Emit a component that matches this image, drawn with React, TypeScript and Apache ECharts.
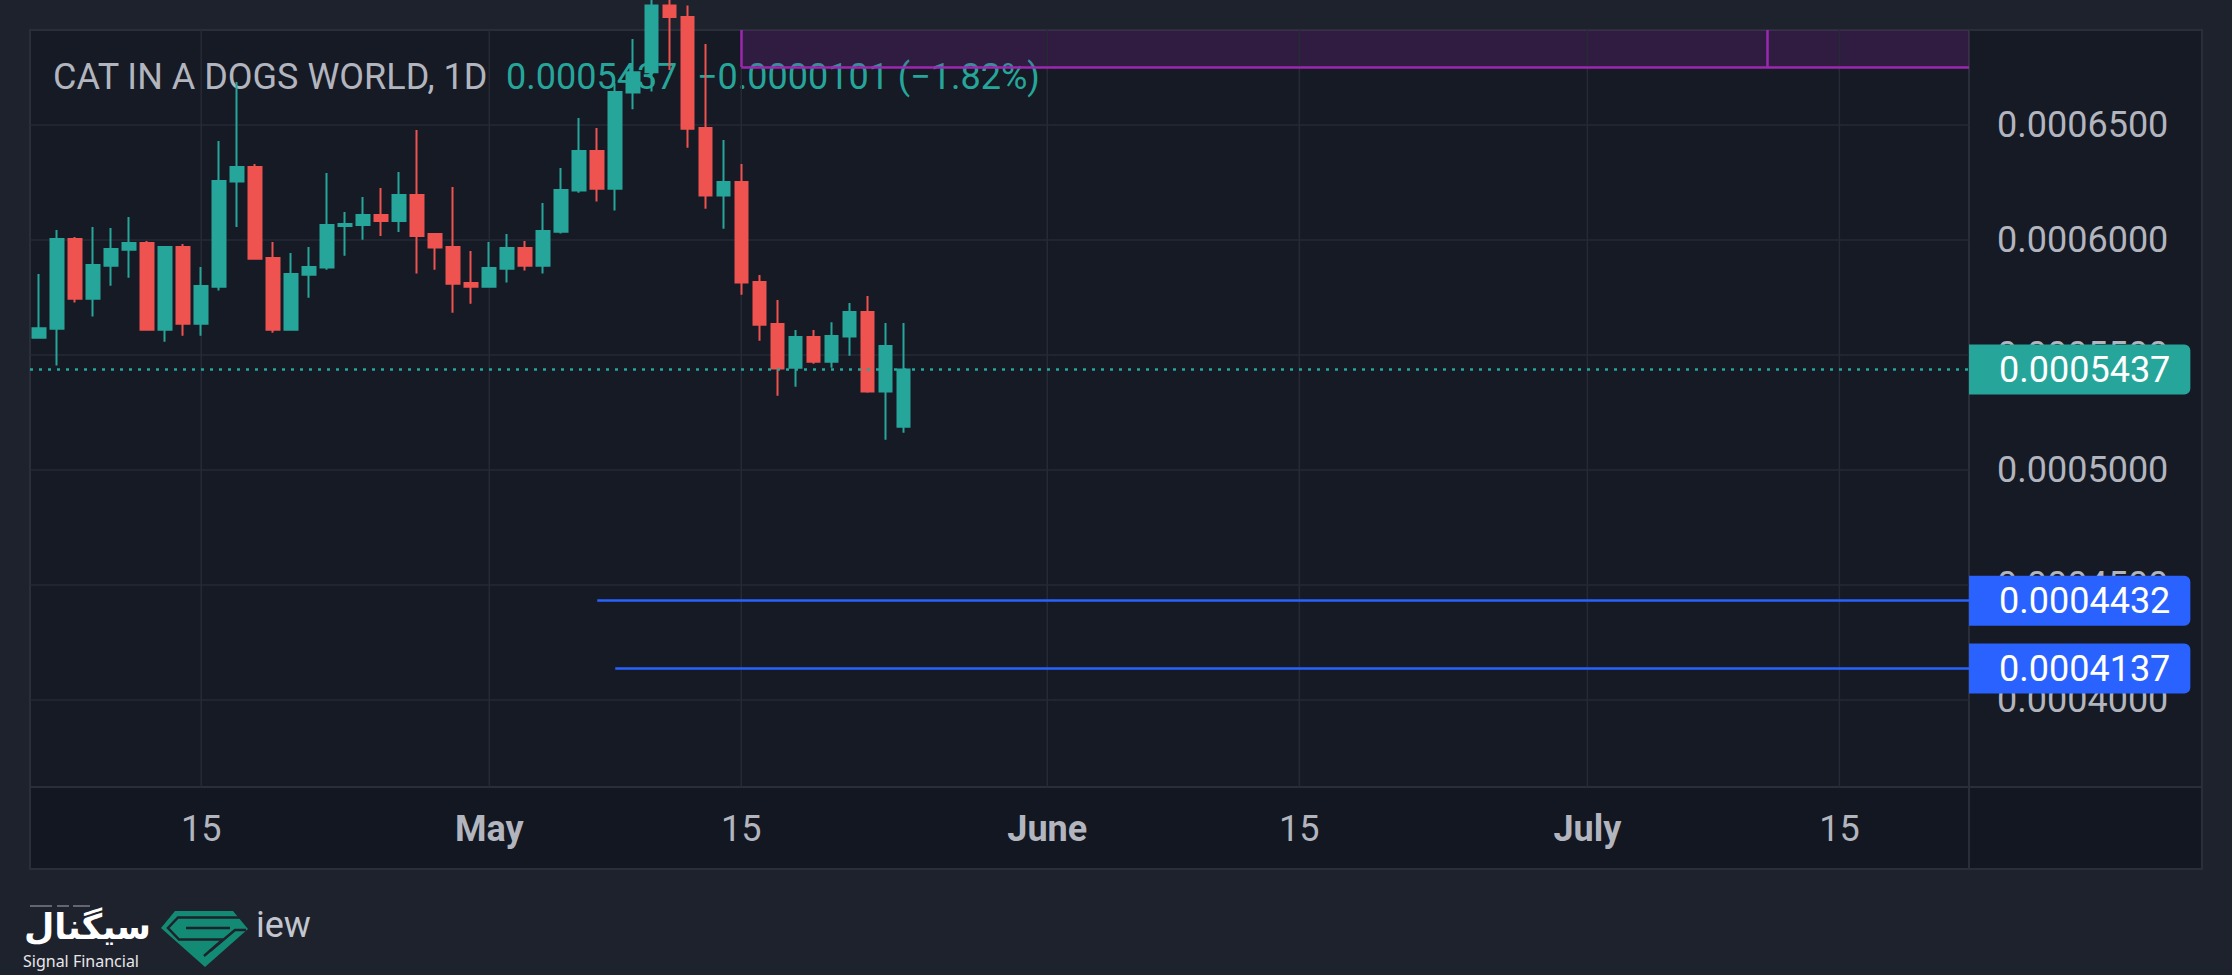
import React, { useEffect, useRef } from "react";
import * as echarts from "echarts";

// ---------- data ----------
const symbolName = "CAT IN A DOGS WORLD";
const intervalName = "1D";

const dates = [
  "2025-04-06", "2025-04-07", "2025-04-08", "2025-04-09", "2025-04-10", "2025-04-11", "2025-04-12", "2025-04-13", "2025-04-14", "2025-04-15",
  "2025-04-16", "2025-04-17", "2025-04-18", "2025-04-19", "2025-04-20", "2025-04-21", "2025-04-22", "2025-04-23", "2025-04-24", "2025-04-25",
  "2025-04-26", "2025-04-27", "2025-04-28", "2025-04-29", "2025-04-30", "2025-05-01", "2025-05-02", "2025-05-03", "2025-05-04", "2025-05-05",
  "2025-05-06", "2025-05-07", "2025-05-08", "2025-05-09", "2025-05-10", "2025-05-11", "2025-05-12", "2025-05-13", "2025-05-14", "2025-05-15",
  "2025-05-16", "2025-05-17", "2025-05-18", "2025-05-19", "2025-05-20", "2025-05-21", "2025-05-22", "2025-05-23", "2025-05-24",
];

const opens = [
  0.0005575, 0.0005614, 0.0006004, 0.0005745, 0.0005888, 0.0005958, 0.0005987, 0.000561, 0.000597, 0.0005636,
  0.0005797, 0.0006254, 0.0006317, 0.0005922, 0.000561, 0.0005849, 0.000588, 0.0006061, 0.0006065, 0.0006109,
  0.0006083, 0.0006196, 0.0006026, 0.000597, 0.0005813, 0.0005797, 0.0005875, 0.0005965, 0.0005888, 0.0006036,
  0.0006215, 0.0006387, 0.0006223, 0.0006641, 0.0006729, 0.000702, 0.000697, 0.0006487, 0.0006193, 0.0006252,
  0.0005817, 0.0005635, 0.0005445, 0.0005578, 0.0005471, 0.000558, 0.0005687, 0.0005341, 0.0005188,
];
const closes = [
  0.0005616, 0.0006004, 0.0005745, 0.0005891, 0.0005961, 0.0005987, 0.000561, 0.000597, 0.0005636, 0.00058,
  0.0006257, 0.0006317, 0.0005919, 0.000561, 0.0005852, 0.0005883, 0.0006065, 0.000607, 0.0006109, 0.0006083,
  0.0006196, 0.0006017, 0.0005967, 0.000581, 0.0005797, 0.0005878, 0.0005965, 0.0005888, 0.0006039, 0.0006217,
  0.0006387, 0.0006223, 0.0006643, 0.0006729, 0.000702, 0.000697, 0.0006484, 0.0006193, 0.0006252, 0.0005815,
  0.0005632, 0.0005441, 0.0005578, 0.0005471, 0.0005583, 0.0005687, 0.0005341, 0.0005539, 0.0005437,
];
const lows = [
  0.0005575, 0.0005454, 0.0005728, 0.0005667, 0.0005801, 0.0005836, 0.000561, 0.0005558, 0.0005584, 0.0005584,
  0.000578, 0.0006057, 0.0005919, 0.0005597, 0.000561, 0.0005749, 0.0005871, 0.0005932, 0.0006001, 0.0006017,
  0.0006035, 0.0005854, 0.0005871, 0.0005684, 0.0005723, 0.0005797, 0.0005815, 0.0005867, 0.0005854, 0.0006028,
  0.0006206, 0.0006167, 0.0006128, 0.0006568, 0.0006646, 0.0006739, 0.0006401, 0.0006136, 0.0006049, 0.0005762,
  0.0005562, 0.0005323, 0.0005362, 0.0005462, 0.0005445, 0.0005497, 0.0005336, 0.0005132, 0.0005162,
];
const highs = [
  0.0005852, 0.0006043, 0.0006013, 0.0006057, 0.0006052, 0.00061, 0.0005996, 0.000597, 0.0005983, 0.0005883,
  0.000643, 0.0006687, 0.000633, 0.0005991, 0.0005943, 0.000597, 0.0006291, 0.0006122, 0.0006187, 0.0006226,
  0.0006296, 0.0006478, 0.0006026, 0.000623, 0.0005952, 0.0005991, 0.0006026, 0.0005996, 0.0006161, 0.0006313,
  0.000653, 0.0006487, 0.0006681, 0.0006874, 0.000715, 0.00072, 0.000702, 0.0006852, 0.0006435, 0.000633,
  0.0005848, 0.0005739, 0.0005609, 0.0005609, 0.0005643, 0.0005726, 0.0005757, 0.0005639, 0.0005639,
];

const xTickDates = ["2025-04-15", "2025-05-01", "2025-05-15", "2025-06-01", "2025-06-15", "2025-07-01", "2025-07-15"];
const monthNames = ["January", "February", "March", "April", "May", "June", "July", "August", "September", "October", "November", "December"];
const yTickValues = [0.0004, 0.00045, 0.0005, 0.00055, 0.0006, 0.00065];

const lastPrice = 0.0005437;
const priceChange = -0.0000101;
const priceChangePct = -1.82;

const supportLevels = [0.0004432, 0.0004137];
const supportStartDates = ["2025-05-07", "2025-05-08"];

const zoneBottom = 0.0006752;
const zoneStartDate = "2025-05-15";
const zoneSplitDate = "2025-07-11";

// visible axis ranges (in days since 2025-04-01 / price)
const xMinDay = 4.49;
const xMaxDay = 112.2;
const yMin = 0.0003622;
const yMax = 0.0006913;

// ---------- helpers ----------
const DAY = 86400000;
const BASE = Date.UTC(2025, 3, 1);
const dayIndex = (s: string) => (Date.parse(s + "T00:00:00Z") - BASE) / DAY;

const FONT = "Roboto, 'Noto Sans', sans-serif";
const TEXT = "#b2b5be";
const UP = "#26a69a";
const DOWN = "#ef5350";
const BLUE = "#2962ff";
const PURPLE = "#9c27b0";
const GRID = "#262a36";
const BORDER = "#2a2e39";

const fmtX = (v: number) => {
  const d = new Date(BASE + Math.round(v) * DAY);
  const day = d.getUTCDate();
  if (day === 1) return "{m|" + monthNames[d.getUTCMonth()] + "}";
  return String(day);
};

const fmtChange = () => {
  const sign = priceChange < 0 ? "\u2212" : "+";
  const psign = priceChangePct < 0 ? "\u2212" : "+";
  return sign + Math.abs(priceChange).toFixed(7) + " (" + psign + Math.abs(priceChangePct).toFixed(2) + "%)";
};

const priceLabel = (bg: string, text: string) => ({
  show: true,
  position: "end",
  distance: 0,
  formatter: text,
  color: "#ffffff",
  fontSize: 36,
  lineHeight: 36,
  fontFamily: FONT,
  backgroundColor: bg,
  padding: [7, 20, 7, 30],
  borderRadius: [0, 6, 6, 0],
});

let gemRegistered = false;

export default function App() {
  const ref = useRef<HTMLDivElement>(null);

  useEffect(() => {
    document.body.style.margin = "0";
    document.body.style.background = "#1e222d";
    if (!gemRegistered) {
      echarts.graphic.registerShape(
        "gem",
        echarts.graphic.extendPath("M15 0 L73 0 L88 18 L45 56 L1 17 Z", {}) as any
      );
      gemRegistered = true;
    }
    const chart = echarts.init(ref.current!, undefined, { renderer: "svg" });

    const candleData = dates.map((d, i) => [dayIndex(d), opens[i], closes[i], lows[i], highs[i]]);
    const xTicks = xTickDates.map(dayIndex);
    const zoneStart = dayIndex(zoneStartDate);
    const zoneSplit = dayIndex(zoneSplitDate);

    const markLines: any[] = [
      [
        {
          coord: [xMinDay, lastPrice],
          lineStyle: { color: UP, width: 2.5, type: [3, 6] },
          label: priceLabel(UP, lastPrice.toFixed(7)),
        },
        { coord: [xMaxDay, lastPrice] },
      ],
    ];
    supportLevels.forEach((lvl, k) => {
      markLines.push([
        {
          coord: [dayIndex(supportStartDates[k]), lvl],
          lineStyle: { color: BLUE, width: 2.5, type: "solid" },
          label: priceLabel(BLUE, lvl.toFixed(7)),
        },
        { coord: [xMaxDay, lvl] },
      ]);
    });
    const purpleStyle = { color: PURPLE, width: 2.5, type: "solid" };
    markLines.push([
      { coord: [zoneStart, zoneBottom], lineStyle: purpleStyle, label: { show: false } },
      { coord: [xMaxDay, zoneBottom] },
    ]);
    markLines.push([
      { coord: [zoneStart, zoneBottom], lineStyle: purpleStyle, label: { show: false } },
      { coord: [zoneStart, yMax] },
    ]);
    markLines.push([
      { coord: [zoneSplit, zoneBottom], lineStyle: purpleStyle, label: { show: false } },
      { coord: [zoneSplit, yMax] },
    ]);

    const titleY = 77;

    const option: any = {
      animation: false,
      backgroundColor: "#1e222d",
      grid: { left: 30, right: 263, top: 30, bottom: 188, containLabel: false },
      xAxis: {
        type: "value",
        min: xMinDay,
        max: xMaxDay,
        z: 3,
        axisLine: { show: false },
        axisTick: { show: false },
        splitLine: { show: false },
        axisLabel: {
          customValues: xTicks,
          margin: 42,
          verticalAlign: "middle",
          color: TEXT,
          fontSize: 36,
          fontFamily: FONT,
          formatter: fmtX,
          rich: { m: { fontWeight: "bold", fontSize: 36, color: TEXT, fontFamily: FONT } },
        },
      },
      yAxis: {
        type: "value",
        position: "right",
        min: yMin,
        max: yMax,
        z: 3,
        axisLine: { show: false },
        axisTick: { show: false },
        splitLine: { show: false },
        axisLabel: {
          customValues: yTickValues,
          margin: 28,
          color: TEXT,
          fontSize: 36,
          fontFamily: FONT,
          formatter: (v: number) => v.toFixed(7),
        },
      },
      series: [
        {
          type: "custom",
          name: "vgrid",
          z: 1,
          silent: true,
          data: xTicks.map((v) => [v]),
          renderItem: (params: any, api: any) => {
            const v = api.value(0);
            const p1 = api.coord([v, yMin]);
            const p2 = api.coord([v, yMax]);
            return {
              type: "line",
              shape: { x1: p1[0], y1: p1[1], x2: p2[0], y2: p2[1] },
              style: { stroke: GRID, lineWidth: 1.5 },
            };
          },
        },
        {
          type: "custom",
          name: "hgrid",
          z: 1,
          silent: true,
          data: yTickValues.map((v) => [v]),
          renderItem: (params: any, api: any) => {
            const v = api.value(0);
            const p1 = api.coord([xMinDay, v]);
            const p2 = api.coord([xMaxDay, v]);
            return {
              type: "line",
              shape: { x1: p1[0], y1: p1[1], x2: p2[0], y2: p2[1] },
              style: { stroke: GRID, lineWidth: 1.5 },
            };
          },
        },
        {
          type: "candlestick",
          name: symbolName,
          z: 2,
          barWidth: 13,
          data: candleData,
          itemStyle: {
            color: UP,
            color0: DOWN,
            borderColor: UP,
            borderColor0: DOWN,
            borderWidth: 2,
          },
          markArea: {
            silent: true,
            itemStyle: { color: "rgba(156,39,176,0.2)", borderWidth: 0 },
            label: { show: false },
            data: [[{ coord: [zoneStart, zoneBottom] }, { coord: [xMaxDay, yMax] }]],
          },
          markLine: {
            silent: true,
            symbol: ["none", "none"],
            label: { show: false },
            data: markLines,
          },
        },
      ],
      graphic: {
        elements: [
          // panel backgrounds
          { type: "rect", z: 0, silent: true, shape: { x: 30, y: 30, width: 2172, height: 839 }, style: { fill: "#161a25" } },
          { type: "rect", z: 0, silent: true, shape: { x: 30, y: 787, width: 2172, height: 82 }, style: { fill: "#131722" } },
          { type: "line", z: 0, silent: true, shape: { x1: 1969, y1: 30, x2: 1969, y2: 869 }, style: { stroke: BORDER, lineWidth: 2 } },
          { type: "line", z: 0, silent: true, shape: { x1: 30, y1: 787, x2: 2202, y2: 787 }, style: { stroke: BORDER, lineWidth: 2 } },
          { type: "rect", z: 0, silent: true, shape: { x: 30, y: 30, width: 2172, height: 839 }, style: { fill: "none", stroke: BORDER, lineWidth: 2 } },
          // legend / title
          {
            type: "text", z: 1, silent: true, x: 53, y: titleY,
            style: { text: symbolName + ", " + intervalName, fill: TEXT, fontSize: 36, fontFamily: FONT, verticalAlign: "middle", textVerticalAlign: "middle" },
          },
          {
            type: "text", z: 1, silent: true, x: 506, y: titleY,
            style: { text: lastPrice.toFixed(7), fill: UP, fontSize: 36, fontFamily: FONT, verticalAlign: "middle", textVerticalAlign: "middle" },
          },
          {
            type: "text", z: 1, silent: true, x: 697, y: titleY,
            style: { text: fmtChange(), fill: UP, fontSize: 36, fontFamily: FONT, verticalAlign: "middle", textVerticalAlign: "middle" },
          },
          // watermark / logo
          { type: "line", z: 1, silent: true, shape: { x1: 30, y1: 906, x2: 52, y2: 906 }, style: { stroke: "#7b7e88", lineWidth: 1.5 } },
          { type: "line", z: 1, silent: true, shape: { x1: 57, y1: 906, x2: 69, y2: 906 }, style: { stroke: "#7b7e88", lineWidth: 1.5 } },
          { type: "line", z: 1, silent: true, shape: { x1: 73, y1: 906, x2: 90, y2: 906 }, style: { stroke: "#7b7e88", lineWidth: 1.5 } },
          {
            type: "text", z: 1, silent: true, x: 24, y: 927,
            style: { text: "سیگنال", fill: "#ffffff", fontSize: 35, fontWeight: "bold", fontFamily: "'DejaVu Sans', 'Noto Sans', sans-serif", verticalAlign: "middle", textVerticalAlign: "middle" },
          },
          {
            type: "text", z: 1, silent: true, x: 23, y: 961,
            style: { text: "Signal Financial", fill: "#e8e8ea", fontSize: 16, fontFamily: "'Noto Sans', sans-serif", verticalAlign: "middle", textVerticalAlign: "middle" },
          },
          { type: "gem", z: 1, silent: true, x: 160, y: 911, scaleX: 1, scaleY: 1, style: { fill: "#138a73" } },
          {
            type: "polyline", z: 1, silent: true, x: 160, y: 911,
            shape: { points: [[80, 6.5], [18, 6.5], [8, 17], [19, 28.5], [63, 28.5], [44, 45]] },
            style: { stroke: "#1e222d", lineWidth: 2.5, fill: "none" },
          },
          {
            type: "polyline", z: 1, silent: true, x: 160, y: 911,
            shape: { points: [[70, 17], [26, 17]] },
            style: { stroke: "#1e222d", lineWidth: 2.5, fill: "none" },
          },
          {
            type: "polyline", z: 1, silent: true, x: 160, y: 911,
            shape: { points: [[86, 19], [75, 19], [50, 40]] },
            style: { stroke: "#1e222d", lineWidth: 2.5, fill: "none" },
          },
          {
            type: "text", z: 1, silent: true, x: 256, y: 925,
            style: { text: "iew", fill: "#c3c6cf", fontSize: 36, fontFamily: FONT, verticalAlign: "middle", textVerticalAlign: "middle" },
          },
        ],
      },
    };

    chart.setOption(option);
    return () => {
      chart.dispose();
    };
  }, []);

  return <div ref={ref} style={{ width: 2232, height: 975, background: "#1e222d" }} />;
}
